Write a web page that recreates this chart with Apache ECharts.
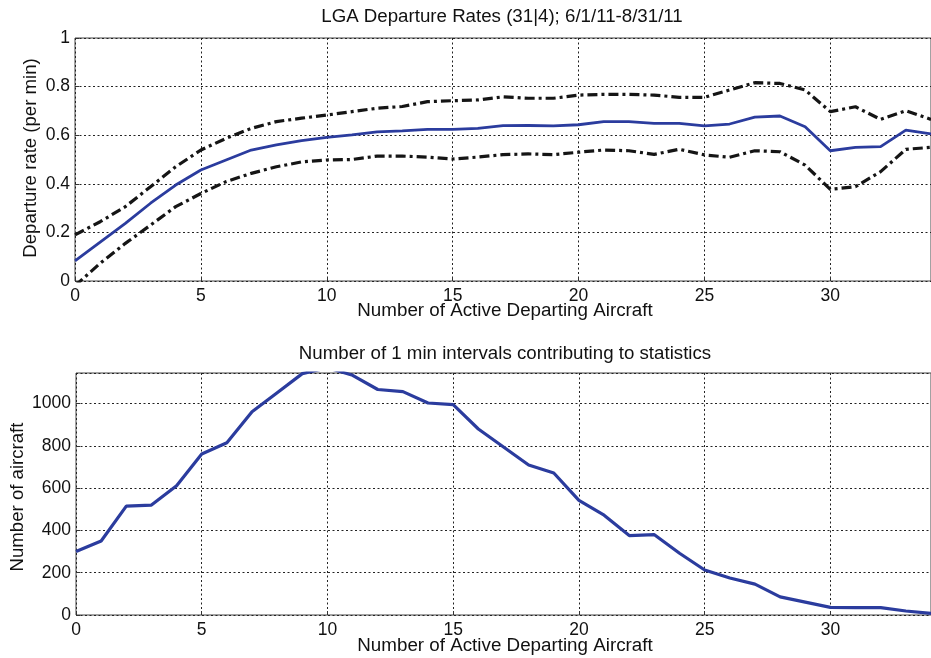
<!DOCTYPE html>
<html>
<head>
<meta charset="utf-8">
<script src="https://cdn.jsdelivr.net/npm/echarts@6/dist/echarts.min.js"></script>
<style>html,body{margin:0;padding:0;background:#fff}#c{width:931px;height:658px}</style>
</head>
<body>
<div id="c"></div>
<script>
// ---- data ----
var activeAircraft = [0,1,2,3,4,5,6,7,8,9,10,11,12,13,14,15,16,17,18,19,20,21,22,23,24,25,26,27,28,29,30,31,32,33,34];
var meanRate  = [0.083,0.16,0.237,0.32,0.395,0.457,0.498,0.539,0.56,0.578,0.591,0.601,0.614,0.618,0.624,0.624,0.628,0.639,0.64,0.638,0.643,0.656,0.656,0.649,0.649,0.638,0.646,0.674,0.679,0.635,0.536,0.55,0.553,0.621,0.605];
var upperRate = [0.19,0.244,0.306,0.388,0.47,0.539,0.587,0.628,0.656,0.67,0.683,0.697,0.711,0.718,0.738,0.742,0.745,0.758,0.752,0.752,0.765,0.768,0.768,0.765,0.756,0.756,0.786,0.816,0.813,0.786,0.697,0.717,0.665,0.701,0.665];
var lowerRate = [-0.02,0.073,0.155,0.23,0.306,0.36,0.409,0.443,0.47,0.49,0.498,0.5,0.514,0.514,0.51,0.502,0.51,0.52,0.523,0.52,0.53,0.539,0.536,0.521,0.542,0.519,0.509,0.536,0.532,0.477,0.377,0.388,0.45,0.542,0.55];
var intervalCounts = [300,350,515,520,612,762,815,962,1052,1142,1170,1134,1067,1057,1003,995,880,795,710,672,542,472,376,380,292,213,175,146,86,61,36,35,35,19,8];
var rateTicks = [0,0.2,0.4,0.6,0.8,1];
var countTicks = [0,200,400,600,800,1000];
var xTicks = [0,5,10,15,20,25,30];

var topTitle = 'LGA Departure Rates (31|4); 6/1/11-8/31/11';
var bottomTitle = 'Number of 1 min intervals contributing to statistics';
var xName = 'Number of Active Departing Aircraft';
var yNameTop = 'Departure rate (per min)';
var yNameBottom = 'Number of aircraft';

function pairs(ys){ return activeAircraft.map(function(x,i){ return [x, ys[i]]; }); }

var FONT = '"Liberation Sans", Arial, sans-serif';
var TXT = '#111';
var gridLine = { show:true, lineStyle:{ color:'#222', width:1, type:[2,2.5] } };

function xAxisCfg(gi){
  return {
    type:'value', gridIndex:gi, min:0, max:34, interval:5,
    axisLine:{show:false},
    axisTick:{show:true, inside:true, length:4, lineStyle:{color:'#333'}},
    splitLine:gridLine,
    axisLabel:{ color:TXT, fontSize:17.5, fontFamily:FONT, margin:6, showMaxLabel:false,
      formatter:function(v){ return xTicks.indexOf(v) >= 0 ? String(v) : ''; } }
  };
}

var chart = echarts.init(document.getElementById('c'), null, {renderer:'canvas'});
chart.setOption({
  backgroundColor:'#fff',
  animation:false,
  grid:[
    {left:75, top:38, width:862.6, height:243, show:true, borderColor:'#444', borderWidth:1, backgroundColor:'#fff'},
    {left:76, top:373, width:861.3, height:242, show:true, borderColor:'#444', borderWidth:1, backgroundColor:'#fff'}
  ],
  xAxis:[ xAxisCfg(0), xAxisCfg(1) ],
  yAxis:[
    { type:'value', gridIndex:0, min:0, max:1, interval:0.2,
      axisLine:{show:false},
      axisTick:{show:true, inside:true, length:4, lineStyle:{color:'#333'}},
      splitLine:gridLine,
      axisLabel:{ color:TXT, fontSize:17.5, fontFamily:FONT, margin:5,
        formatter:function(v){ var r = Math.round(v*10)/10; return rateTicks.indexOf(r) >= 0 ? String(r) : ''; } } },
    { type:'value', gridIndex:1, min:0, max:1145, interval:200,
      axisLine:{show:false},
      axisTick:{show:true, inside:true, length:4, lineStyle:{color:'#333'}},
      splitLine:gridLine,
      axisLabel:{ color:TXT, fontSize:17.5, fontFamily:FONT, margin:5, showMaxLabel:false,
        formatter:function(v){ return countTicks.indexOf(v) >= 0 ? String(v) : ''; } } }
  ],
  series:[
    { type:'line', xAxisIndex:0, yAxisIndex:0, data:pairs(upperRate), symbol:'none', clip:true,
      lineStyle:{ color:'#151515', width:3.2, type:[10,4,3,4] } },
    { type:'line', xAxisIndex:0, yAxisIndex:0, data:pairs(lowerRate), symbol:'none', clip:true,
      lineStyle:{ color:'#151515', width:3.2, type:[10,4,3,4] } },
    { type:'line', xAxisIndex:0, yAxisIndex:0, data:pairs(meanRate), symbol:'none', clip:true,
      lineStyle:{ color:'#2b3c9e', width:2.8 } },
    { type:'line', xAxisIndex:1, yAxisIndex:1, data:pairs(intervalCounts), symbol:'none', clip:true,
      lineStyle:{ color:'#2b3c9e', width:3.2 } }
  ],
  graphic:[
    { type:'text', x:502, y:17, style:{ text:topTitle, fill:TXT, font:'18.7px '+FONT, textAlign:'center', textVerticalAlign:'middle' } },
    { type:'text', x:505, y:311, style:{ text:xName, fill:TXT, font:'18.8px '+FONT, textAlign:'center', textVerticalAlign:'middle' } },
    { type:'text', x:31, y:158, rotation:Math.PI/2, style:{ text:yNameTop, fill:TXT, font:'18.6px '+FONT, textAlign:'center', textVerticalAlign:'middle' } },
    { type:'text', x:505, y:354, style:{ text:bottomTitle, fill:TXT, font:'18.7px '+FONT, textAlign:'center', textVerticalAlign:'middle' } },
    { type:'text', x:505, y:646, style:{ text:xName, fill:TXT, font:'18.8px '+FONT, textAlign:'center', textVerticalAlign:'middle' } },
    { type:'text', x:18, y:497, rotation:Math.PI/2, style:{ text:yNameBottom, fill:TXT, font:'18.6px '+FONT, textAlign:'center', textVerticalAlign:'middle' } }
  ]
});
</script>
</body>
</html>
